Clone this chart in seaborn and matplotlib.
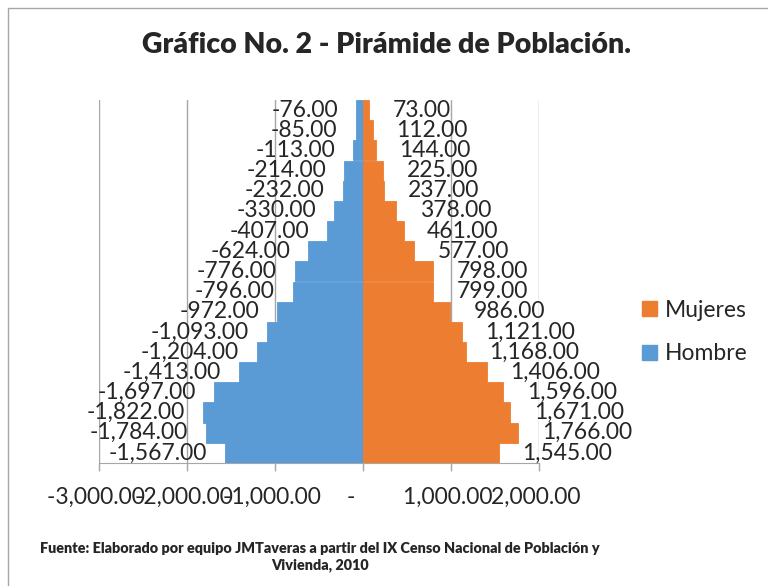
import numpy as np
import pandas as pd
import matplotlib
matplotlib.use('Agg')
import matplotlib.pyplot as plt
from matplotlib.patches import Patch, Rectangle
from matplotlib.ticker import FuncFormatter
import seaborn as sns

# Grupos de edad, de arriba (mayores) hacia abajo (menores)
grupos = ['85+', '80-84', '75-79', '70-74', '65-69', '60-64', '55-59', '50-54',
          '45-49', '40-44', '35-39', '30-34', '25-29', '20-24', '15-19',
          '10-14', '5-9', '0-4']
hombre = [76, 85, 113, 214, 232, 330, 407, 624, 776, 796, 972, 1093, 1204,
          1413, 1697, 1822, 1784, 1567]
mujeres = [73, 112, 144, 225, 237, 378, 461, 577, 798, 799, 986, 1121, 1168,
           1406, 1596, 1671, 1766, 1545]
x_ticks = [-3000, -2000, -1000, 0, 1000, 2000]

azul = '#5B9BD5'
naranja = '#ED7D31'

df = pd.concat([
    pd.DataFrame({'grupo': grupos, 'valor': [-v for v in hombre], 'sexo': 'Hombre'}),
    pd.DataFrame({'grupo': grupos, 'valor': mujeres, 'sexo': 'Mujeres'}),
])

sns.set_style('white')
plt.rcParams['font.family'] = ['Lato', 'DejaVu Sans']

W, H = 768, 586
fig = plt.figure(figsize=(W / 100, H / 100), dpi=100)
ax = fig.add_axes([99 / W, 1 - 463 / H, (539 - 99) / W, (463 - 100) / H])

sns.barplot(data=df, x='valor', y='grupo', hue='sexo', order=grupos,
            palette={'Hombre': azul, 'Mujeres': naranja}, dodge=False,
            width=1.0, orient='h', ax=ax, legend=False, saturation=1,
            zorder=3)
# cerrar las rendijas blancas entre barras
for p in ax.patches:
    p.set_edgecolor(p.get_facecolor())
    p.set_linewidth(0.6)

ax.set_xlim(-3000, 2000)
ax.set_xticks(x_ticks)
ax.xaxis.set_major_formatter(FuncFormatter(lambda v, p: '-    ' if v == 0 else f'{v:,.2f} '))
ax.tick_params(axis='x', labelsize=16.5, length=6, width=1, color='#A6A6A6',
               pad=11, direction='out', bottom=True)
ax.set_yticks([])
ax.set_xlabel('')
ax.set_ylabel('')
ax.grid(axis='x', color='#A6A6A6', linewidth=1, zorder=0)
ax.set_axisbelow(True)
for s in ['top', 'right', 'left']:
    ax.spines[s].set_visible(False)
ax.spines['bottom'].set_color('#A6A6A6')

# etiquetas de datos
for i, (h, m) in enumerate(zip(hombre, mujeres)):
    ax.annotate(f'{-h:,.2f}', (-h, i), xytext=(-13, 0), textcoords='offset points',
                ha='right', va='center', fontsize=16.5, zorder=5)
    ax.annotate(f'{m:,.2f}', (m, i), xytext=(17, 0), textcoords='offset points',
                ha='left', va='center', fontsize=16.5, zorder=5)

fig.legend(handles=[Patch(color=naranja, label='Mujeres'), Patch(color=azul, label='Hombre')],
           loc='center left', bbox_to_anchor=(621 / W, 1 - 332 / H), frameon=False,
           fontsize=16.5, handlelength=0.65, handleheight=0.65, handletextpad=0.35,
           labelspacing=1.0)

fig.text(386 / W, 1 - 45 / H, 'Gráfico No. 2 - Pirámide de Población.',
         ha='center', va='center', fontsize=20.5, fontweight='heavy')
fig.text(320 / W, 1 - 557 / H,
         'Fuente: Elaborado por equipo JMTaveras a partir del IX Censo Nacional de Población y\nVivienda, 2010',
         ha='center', va='center', fontsize=10.4, fontweight='heavy', linespacing=1.25)

fig.patches.append(Rectangle((8 / W, -0.1), 1.2, 1.1 - 8 / H, transform=fig.transFigure,
                             fill=False, edgecolor='#A6A6A6', linewidth=1))

fig.savefig('out.png', dpi=100)
